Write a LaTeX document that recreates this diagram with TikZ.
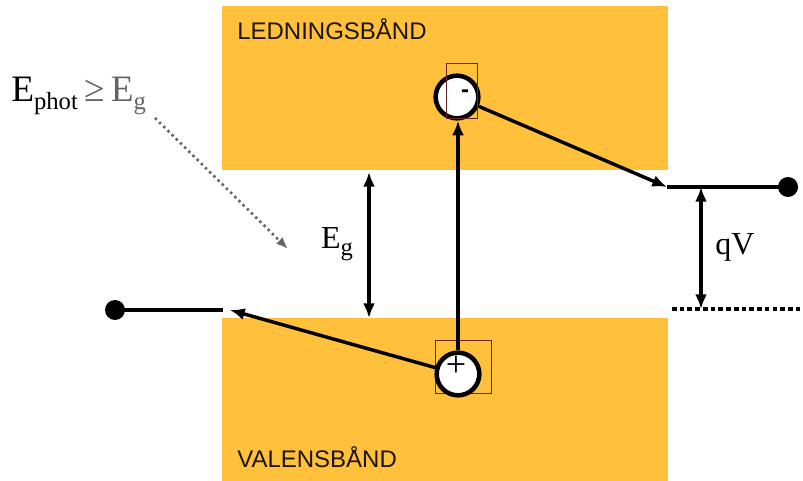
\documentclass[tikz,border=0pt]{standalone}
\usepackage{fontspec}
\setmainfont{Liberation Serif}
\newfontfamily\bandfont{Liberation Sans}
\usetikzlibrary{arrows.meta}
\definecolor{bandyellow}{RGB}{255,192,60}
\definecolor{boxred}{RGB}{105,35,35}
\definecolor{hintgray}{RGB}{100,100,100}
\definecolor{labeldark}{RGB}{30,20,10}
\newcommand{\lowsub}[1]{\raisebox{-5.5pt}{\fontsize{18.5}{20}\selectfont #1}}
\begin{document}
\begin{tikzpicture}[x=0.75pt,y=-0.75pt,
  band/.style={fill=bandyellow, draw=none, inner sep=0pt, outer sep=0pt, minimum width=334.5pt},
  bandlabel/.style={font=\bandfont\fontsize{18}{20}\selectfont, text=labeldark, inner sep=0pt, anchor=base west},
  carrier/.style={circle, draw=black, fill=white, line width=3.4pt, minimum size=32pt, inner sep=0pt},
  textbox/.style={draw=boxred, line width=0.7pt},
  flow/.style={line width=2.6pt, -{Latex[length=11pt,width=9pt]}},
  gap/.style={line width=2.6pt, {Latex[length=11pt,width=9pt]}-{Latex[length=11pt,width=9pt]}},
  level/.style={line width=2.6pt},
  terminal/.style={circle, fill=black, inner sep=0pt, minimum size=15pt},
  serif/.style={font=\fontsize{24}{28}\selectfont, inner sep=0pt}
]
\useasboundingbox (0,0) rectangle (803,481);

% conduction and valence bands
\node[band, minimum height=123pt] (cband) at (445,88) {};
\node[band, minimum height=122.25pt] (vband) at (445,399.5) {};
\node[bandlabel] (cbtext) at (237,40) {LEDNINGSBÅND};
\node[bandlabel] (vbtext) at (237,467) {VALENSBÅND};

% hole in the valence band (box behind the circle)
\draw[textbox] (435,340) rectangle (491,393);
\node[carrier] (hole) at (458,374) {};
\node[inner sep=0pt, font=\fontsize{27}{30}\selectfont] (plus) at (456,366) {+};

% electron in the conduction band (box over the circle)
\node[carrier] (electron) at (457,97) {};
\draw[textbox] (446,63) rectangle (477,118);
\node[inner sep=0pt, font=\bandfont\bfseries\fontsize{18}{20}\selectfont] (minus) at (465,94) {-};

% excitation across the gap
\draw[flow] (hole.north) -- (hole.north |- electron.south);

% electron level on the right, hole level on the left
\coordinate (rlevel) at (667,187);
\node[terminal] (rdot) at (788,187) {};
\draw[flow] (electron) -- (rlevel);
\draw[level] (rlevel) -- (rdot.center);

\coordinate (ltip) at (230,310);
\coordinate (llevel) at (223,310);
\node[terminal] (ldot) at (115,310) {};
\draw[flow] (hole) -- (ltip);
\draw[level] (llevel) -- (ldot.center);

% band gap
\draw[gap] (369,172) -- (369,318);
\node[serif] (eg) at (337,244) {E\lowsub{g}};

% photovoltage
\coordinate (dotl) at (672,309);
\coordinate (dotr) at (800,309);
\draw[line width=2.8pt, dash pattern=on 3.5pt off 2.3pt] (dotl) -- (dotr);
\draw[gap] (701,187) -- (701,309);
\node[serif] (qv) at (735,247) {qV};

% photon energy condition
\node[inner sep=0pt, anchor=base west, font=\fontsize{28}{32}\selectfont] (cond) at (11,102)
  {E\lowsub{phot}\,\textcolor{hintgray}{≥\,E\lowsub{g}}};
\coordinate (hintstart) at (155,118);
\coordinate (hintend) at (288,249);
\draw[hintgray, line width=2pt, dash pattern=on 1.8pt off 2.6pt,
  -{Latex[length=9pt,width=7pt]}] (hintstart) -- (hintend);
\end{tikzpicture}
\end{document}
